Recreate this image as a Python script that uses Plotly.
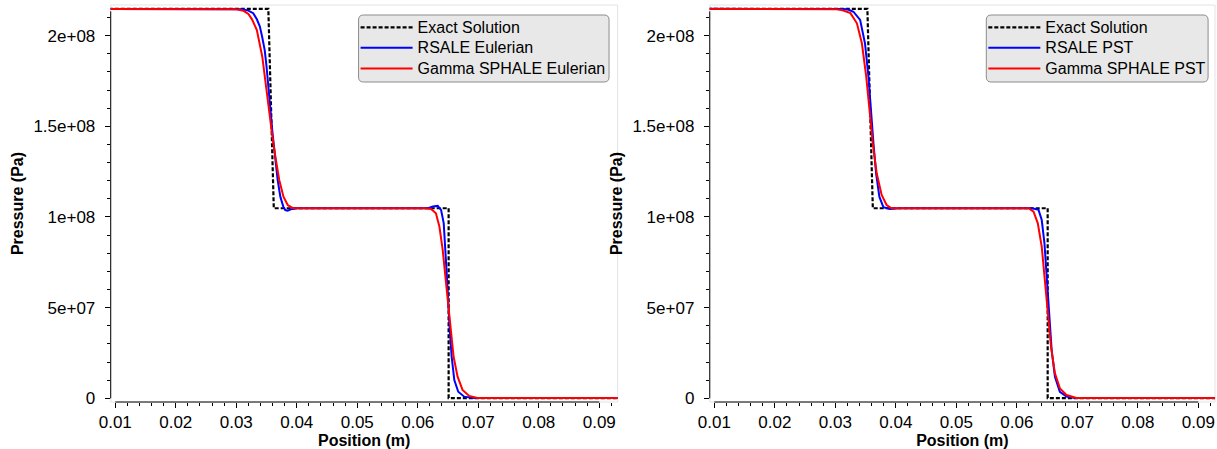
import plotly.graph_objects as go

# ---------------- data ----------------
exact_x = [0.0, 0.0353, 0.0362, 0.0651, 0.0651, 0.1]
exact_p = [2.148e8, 2.148e8, 1.048e8, 1.048e8, 1.0e5, 1.0e5]

# Left panel (Eulerian)
rsale_eul_x = [0.0, 0.0300, 0.0310, 0.0320, 0.0328, 0.0334, 0.0339, 0.0343, 0.0347, 0.0350,
               0.0352, 0.03565, 0.0360, 0.03646, 0.03684, 0.03728, 0.03777, 0.0381, 0.0385,
               0.0390, 0.0400, 0.0617, 0.0625, 0.0633, 0.06385, 0.06429, 0.06466, 0.06494,
               0.06522, 0.0656, 0.06604, 0.06669, 0.06768, 0.06931, 0.1]
rsale_eul_p = [2.148e8, 2.148e8, 2.146e8, 2.138e8, 2.124e8, 2.09e8, 2.05e8, 1.99e8, 1.92e8, 1.83e8,
               1.74e8, 1.59e8, 1.46e8, 1.314e8, 1.204e8, 1.112e8, 1.057e8, 1.038e8, 1.035e8,
               1.042e8, 1.048e8, 1.048e8, 1.058e8, 1.061e8, 1.039e8, 0.965e8, 0.781e8, 0.597e8,
               0.414e8, 0.229e8, 0.101e8, 0.036e8, 0.009e8, 1.0e5, 1.0e5]

sphale_eul_x = [0.0, 0.0290, 0.0300, 0.0312, 0.0320, 0.0326, 0.0334, 0.0343, 0.0349, 0.0355,
                0.0359, 0.03646, 0.0371, 0.0378, 0.0385, 0.0393, 0.0400, 0.0613, 0.0622,
                0.0630, 0.06358, 0.06412, 0.0645, 0.06494, 0.06538, 0.06592, 0.06658, 0.0674,
                0.06849, 0.06985, 0.1]
sphale_eul_p = [2.148e8, 2.148e8, 2.145e8, 2.137e8, 2.12e8, 2.09e8, 2.031e8, 1.884e8, 1.719e8, 1.572e8,
                1.462e8, 1.333e8, 1.204e8, 1.112e8, 1.066e8, 1.050e8, 1.048e8, 1.048e8, 1.044e8,
                1.020e8, 0.946e8, 0.818e8, 0.689e8, 0.542e8, 0.377e8, 0.229e8, 0.119e8, 0.046e8,
                0.013e8, 0.002e8, 1.0e5]

# Right panel (PST)
rsale_pst_x = [0.0, 0.0305, 0.0314, 0.0322, 0.0330, 0.0341, 0.0349, 0.03548, 0.03586, 0.0363,
               0.03674, 0.03728, 0.03794, 0.03903, 0.0404, 0.0620, 0.0625, 0.06359, 0.06412,
               0.06457, 0.06494, 0.06532, 0.06576, 0.0663, 0.06712, 0.06822, 0.06957, 0.1]
rsale_pst_p = [2.148e8, 2.148e8, 2.147e8, 2.143e8, 2.132e8, 2.087e8, 1.958e8, 1.774e8, 1.59e8, 1.407e8,
               1.241e8, 1.112e8, 1.054e8, 1.044e8, 1.048e8, 1.048e8, 1.048e8, 1.039e8, 0.983e8,
               0.855e8, 0.671e8, 0.45e8, 0.266e8, 0.119e8, 0.036e8, 0.009e8, 1.0e5, 1.0e5]

sphale_pst_x = [0.0, 0.0295, 0.0302, 0.0312, 0.0325, 0.03357, 0.03439, 0.03511, 0.03565, 0.03619,
                0.03684, 0.03766, 0.03848, 0.0393, 0.0400, 0.0615, 0.06195, 0.06277, 0.06347,
                0.06412, 0.06466, 0.06511, 0.06565, 0.0663, 0.06712, 0.06822, 0.06985, 0.1]
sphale_pst_p = [2.148e8, 2.148e8, 2.146e8, 2.14e8, 2.124e8, 2.068e8, 1.958e8, 1.774e8, 1.59e8, 1.407e8,
                1.241e8, 1.121e8, 1.066e8, 1.048e8, 1.048e8, 1.048e8, 1.048e8, 1.029e8, 0.965e8,
                0.836e8, 0.634e8, 0.45e8, 0.285e8, 0.138e8, 0.055e8, 0.018e8, 0.002e8, 1.0e5]

y_tickvals = [0, 5e7, 1e8, 1.5e8, 2e8]
y_ticktext = ["0", "5e+07", "1e+08", "1.5e+08", "2e+08"]

# ---------------- figure ----------------
FONT = "Liberation Sans, Arial, sans-serif"
W, H = 1217, 449
MT, MB = 5, 47
PH = H - MT - MB

x_ranges = [[0.009247, 0.09304], [0.009247, 0.09276]]
y_range = [-2.04e6, 2.169e8]
domains = [[99.7 / W, 611.7 / W], [704.7 / W, 1215 / W]]


def px_x(px):
    return px / W


def px_y(py):
    return (H - MB - py) / PH


def rounded_box(x0, y0, x1, y1, r=5):
    # pixel box -> paper-space SVG path with rounded corners
    X = px_x
    Y = px_y
    return (f"M{X(x0 + r)},{Y(y0)} L{X(x1 - r)},{Y(y0)} Q{X(x1)},{Y(y0)} {X(x1)},{Y(y0 + r)} "
            f"L{X(x1)},{Y(y1 - r)} Q{X(x1)},{Y(y1)} {X(x1 - r)},{Y(y1)} "
            f"L{X(x0 + r)},{Y(y1)} Q{X(x0)},{Y(y1)} {X(x0)},{Y(y1 - r)} "
            f"L{X(x0)},{Y(y0 + r)} Q{X(x0)},{Y(y0)} {X(x0 + r)},{Y(y0)} Z")


fig = go.Figure()


def lbl(t):
    return '<span style="font-size:16px">' + t + "</span>"


panels = [
    ("x", "y", "legend", "RSALE Eulerian", "Gamma SPHALE Eulerian",
     rsale_eul_x, rsale_eul_p, sphale_eul_x, sphale_eul_p),
    ("x2", "y2", "legend2", "RSALE PST", "Gamma SPHALE PST",
     rsale_pst_x, rsale_pst_p, sphale_pst_x, sphale_pst_p),
]

for xa, ya, lg, n1, n2, bx, bp, rx, rp in panels:
    fig.add_trace(go.Scatter(x=exact_x, y=exact_p, mode="lines", name=lbl("Exact Solution"),
                             line=dict(color="black", width=2.2, dash="4px,2px"),
                             xaxis=xa, yaxis=ya, legend=lg))
    fig.add_trace(go.Scatter(x=bx, y=bp, mode="lines", name=lbl(n1),
                             line=dict(color="#0000ff", width=2),
                             xaxis=xa, yaxis=ya, legend=lg))
    fig.add_trace(go.Scatter(x=rx, y=rp, mode="lines", name=lbl(n2),
                             line=dict(color="#ff0000", width=2),
                             xaxis=xa, yaxis=ya, legend=lg))

tickfont = dict(family=FONT, size=17, color="black")
titlefont = dict(family=FONT, size=16, color="black", weight="bold")

for i in range(2):
    sfx = "" if i == 0 else str(i + 1)
    fig.update_layout(**{
        "xaxis" + sfx: dict(
            domain=domains[i], range=x_ranges[i], anchor="y" + sfx,
            showgrid=False, zeroline=False, showline=False,
            tickmode="linear", tick0=0.01, dtick=0.01, tickformat=".2f",
            ticks="outside", ticklen=5, tickwidth=1, tickcolor="black",
            minor=dict(tickmode="linear", tick0=0.01, dtick=0.002, ticks="outside",
                       ticklen=3, tickwidth=1, tickcolor="black", showgrid=False),
            tickfont=tickfont, ticklabelstandoff=0,
            title=dict(text="Position (m)", font=titlefont, standoff=1),
        ),
        "yaxis" + sfx: dict(
            domain=[0, 1], range=y_range, anchor="x" + sfx,
            showgrid=False, zeroline=False, showline=False,
            tickmode="array", tickvals=y_tickvals, ticktext=y_ticktext,
            ticks="outside", ticklen=5, tickwidth=1, tickcolor="black",
            minor=dict(tickmode="linear", tick0=0, dtick=1e7, ticks="outside",
                       ticklen=3, tickwidth=1, tickcolor="black", showgrid=False),
            tickfont=tickfont, ticklabelstandoff=6,
            title=dict(text="Pressure (Pa)", font=titlefont, standoff=5),
        ),
    })
    xr = "x" + sfx
    yr = "y" + sfx
    # light frame
    fig.add_shape(type="rect", xref=xr + " domain", yref=yr + " domain",
                  x0=0, x1=1, y0=0, y1=1, line=dict(color="#e3e3e3", width=1),
                  layer="below")
    # detached axis lines
    fig.add_shape(type="line", xref=xr, yref=yr + " domain",
                  x0=0.01, x1=0.09, y0=0, y1=0, line=dict(color="black", width=1))
    fig.add_shape(type="line", xref=xr + " domain", yref=yr,
                  x0=0, x1=0, y0=0, y1=y_range[1] - 3.5e6, line=dict(color="black", width=1))

# rounded legend frames
for (bx0, bx1) in [(350, 603), (984, 1208)]:
    fig.add_shape(type="path", xref="paper", yref="paper",
                  path=rounded_box(bx0, 15, bx1, 82, r=5),
                  fillcolor="#e8e8e8", line=dict(color="#8c8c8c", width=1),
                  layer="above")

legend_common = dict(
    font=dict(family=FONT, size=13.5, color="black"),
    bgcolor="rgba(0,0,0,0)", borderwidth=0,
    xanchor="left", yanchor="top", tracegroupgap=0, itemwidth=52,
)
fig.update_layout(
    width=W, height=H,
    margin=dict(l=0, r=0, t=MT, b=MB),
    paper_bgcolor="white", plot_bgcolor="white",
    showlegend=True,
    legend=dict(x=px_x(347), y=px_y(12), **legend_common),
    legend2=dict(x=px_x(981), y=px_y(12), **legend_common),
    font=dict(family=FONT, size=16, color="black"),
)

fig.write_html("out.html")
